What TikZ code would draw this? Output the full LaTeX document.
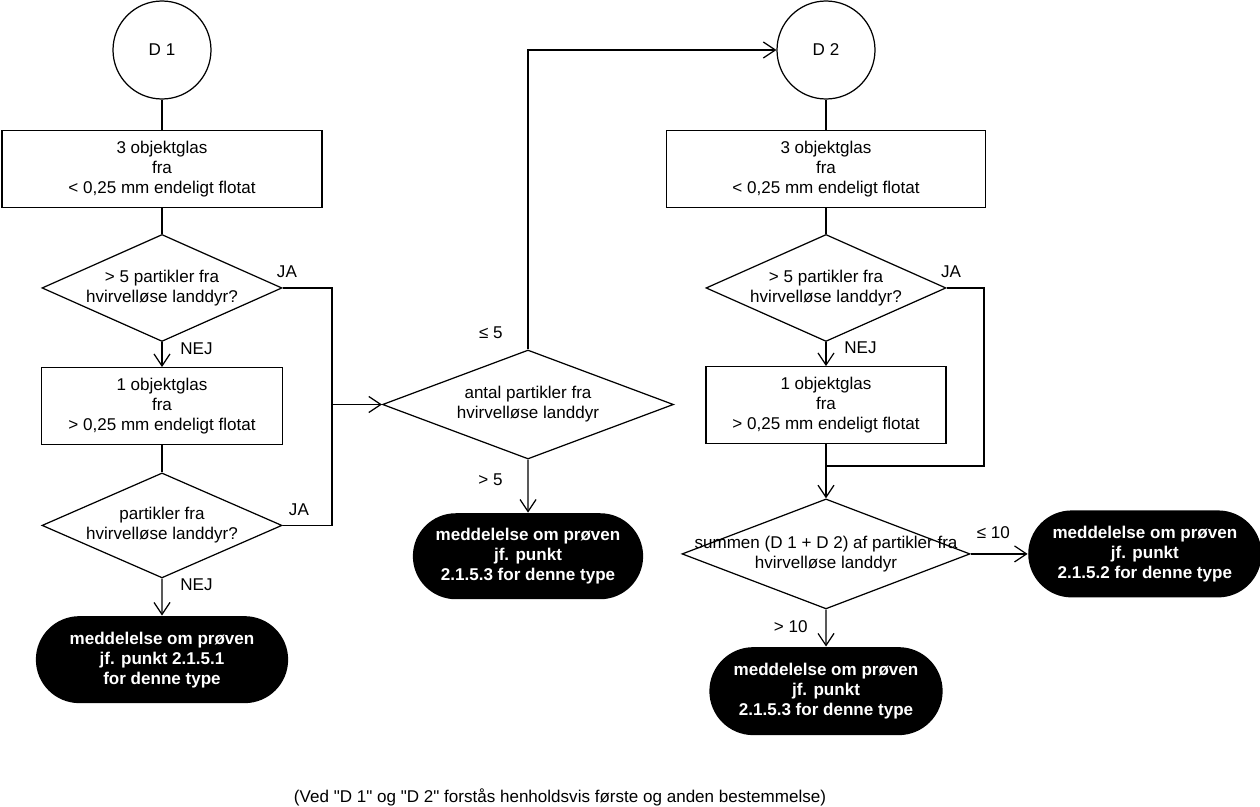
\documentclass[tikz,border=0pt]{standalone}
\usepackage{fontspec}
\setmainfont{Liberation Sans}
\usetikzlibrary{positioning,arrows.meta,shapes.geometric,shapes.misc}

\begin{document}
\begin{tikzpicture}[font=\fontsize{9.7}{11.4}\selectfont,
  every node/.style={align=center},
  line width=0.7pt,
  startc/.style={draw, circle, minimum size=1.96cm, inner sep=0pt},
  proc/.style={draw, minimum width=6.4cm, minimum height=1.54cm, inner sep=2pt},
  dec/.style={draw, diamond, aspect=2.24, minimum width=4.8cm, minimum height=2.14cm, inner sep=0pt},
  term/.style={rounded rectangle, fill=black, text=white, font=\fontsize{9.7}{11.4}\selectfont\bfseries, minimum width=4.9cm, minimum height=1.74cm},
  lbl/.style={inner sep=1pt},
  arr/.style={-{Straight Barb[length=2.4mm, width=3.2mm]}}]

\useasboundingbox (0,0) rectangle (25.2,-16.14);

% ---------------- first determination (D 1) ----------------
\node[startc] (d1) at (3.24,-1.0) {D 1};
\node[proc, below=0.6cm of d1] (p1) {3 objektglas\\fra\\< 0,25 mm endeligt flotat};
\node[dec, below=0.52cm of p1] (q1) {> 5 partikler fra\\hvirvelløse landdyr?};
\node[proc, below=0.5cm of q1, minimum width=4.82cm] (p2) {1 objektglas\\fra\\> 0,25 mm endeligt flotat};
\node[dec, below=0.54cm of p2, minimum height=2.1cm] (q2) {partikler fra\\hvirvelløse landdyr?};
\node[term, below=0.74cm of q2, minimum width=5.28cm] (t1) {meddelelse om prøven\\jf. punkt 2.1.5.1\\for denne type};

% ---------------- count after D 1 ----------------
\node[dec, aspect=2.64, minimum width=5.82cm, minimum height=2.18cm] (q3) at (10.56,-8.09) {antal partikler fra\\hvirvelløse landdyr};
\node[term, below=1.06cm of q3, minimum width=4.84cm, minimum height=1.72cm] (t2) {meddelelse om prøven\\jf. punkt\\2.1.5.3 for denne type};

% ---------------- second determination (D 2) ----------------
\node[startc] (d2) at (16.52,-1.0) {D 2};
\node[proc, below=0.6cm of d2, minimum width=6.38cm] (p3) {3 objektglas\\fra\\< 0,25 mm endeligt flotat};
\node[dec, below=0.52cm of p3] (q4) {> 5 partikler fra\\hvirvelløse landdyr?};
\node[proc, below=0.48cm of q4, minimum width=4.8cm] (p4) {1 objektglas\\fra\\> 0,25 mm endeligt flotat};
\node[dec, below=1.08cm of p4, aspect=2.62, minimum width=5.76cm, minimum height=2.2cm] (q5) {};
\node (q5txt) at (q5) {summen (D 1 + D 2) af partikler fra\\hvirvelløse landdyr};
\node[term, right=1.14cm of q5] (t3) {meddelelse om prøven\\jf. punkt\\2.1.5.2 for denne type};
\node[term, below=0.74cm of q5, minimum height=1.76cm] (t4) {meddelelse om prøven\\jf. punkt\\2.1.5.3 for denne type};

\node (note) at (11.2,-15.94) {(Ved \textquotedbl D 1\textquotedbl\ og \textquotedbl D 2\textquotedbl\ forstås henholdsvis første og anden bestemmelse)};

% ---------------- arrows ----------------
\coordinate (ja1) at (6.64,-8.09);
\coordinate (ja2) at (19.68,-9.32);

\draw (d1) -- (p1);
\draw (p1) -- (q1);
\draw[arr] (q1) -- node[lbl, pos=0.25, anchor=west, xshift=0.32cm] (nej1) {NEJ} (p2);
\draw (p2) -- (q2);
\draw[arr] (q2) -- node[lbl, pos=0.18, anchor=west, xshift=0.32cm] (nej2) {NEJ} (t1);
\draw (q1.east) -| (ja1) |- (q2.east);
\draw[arr] (ja1) -- (q3.west);
\node[lbl, anchor=south west, xshift=-0.16cm, yshift=0.16cm] (ja1lbl) at (q1.east) {JA};
\node[lbl, anchor=south west, xshift=0.08cm, yshift=0.14cm] (ja2lbl) at (q2.east) {JA};

\draw[arr] (q3.north) |- (d2.west);
\node[lbl, anchor=south east, xshift=-0.46cm, yshift=0.16cm] (le5) at (q3.north) {≤ 5};
\draw[arr] (q3) -- node[lbl, pos=0.38, anchor=east, xshift=-0.46cm] (gt5) {> 5} (t2);

\draw (d2) -- (p3);
\draw (p3) -- (q4);
\draw[arr] (q4) -- node[lbl, pos=0.25, anchor=west, xshift=0.32cm] (nej3) {NEJ} (p4);
\draw (q4.east) -| (ja2) -- (ja2 -| p4.south);
\node[lbl, anchor=south west, xshift=-0.16cm, yshift=0.16cm] (ja3lbl) at (q4.east) {JA};
\draw[arr] (p4) -- (q5);
\draw[arr] (q5) -- node[lbl, pos=0.4, anchor=south, yshift=0.26cm] (le10) {≤ 10} (t3);
\draw[arr] (q5) -- node[lbl, pos=0.47, anchor=east, xshift=-0.32cm] (gt10) {> 10} (t4);
\end{tikzpicture}
\end{document}
